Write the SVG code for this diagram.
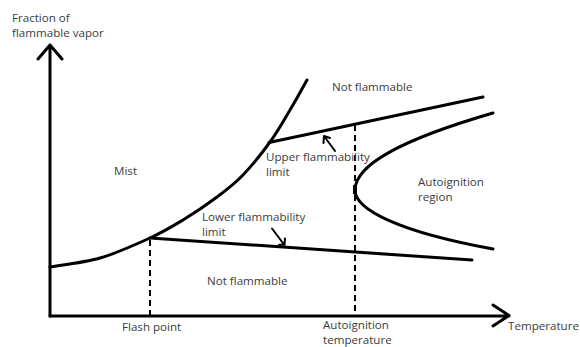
<svg xmlns="http://www.w3.org/2000/svg" width="580" height="347" viewBox="0 0 580 347">
<style>
.t{font-family:"Open Sans","Liberation Sans",sans-serif;font-size:11.6px;fill:#3c3c3c}
.ln{fill:none;stroke:#000;stroke-width:3;stroke-linecap:round;stroke-linejoin:round}
.ar{fill:none;stroke:#000;stroke-width:2;stroke-linecap:round;stroke-linejoin:round}
.ds{fill:none;stroke:#000;stroke-width:2;stroke-dasharray:6 4}
</style>
<rect width="580" height="347" fill="#fff"/>
<g id="axes">
<path class="ln" d="M50,316 V45 M38,59 L50,45 L62,59"/>
<path class="ln" d="M50,316 H509 M493,305 L509,315.5 L493,326"/>
</g>
<g id="connectors">
<path class="ln" d="M50,267 C58.3,265.5 83.3,262.8 100,258 C116.7,253.2 136.2,244.3 150,238 C163.8,231.7 171.8,226.8 183,220 C194.2,213.2 207,204.5 217,197 C227,189.5 234.2,184.2 243,175 C251.8,165.8 262.2,152.8 270,142 C277.8,131.2 283.8,120.3 290,110 C296.2,99.7 304.2,85 307,80"/>
<path class="ln" d="M269,142.5 L483,97"/>
<path class="ln" d="M150,238 L472,260"/>
<path class="ln" d="M493,113 C400,140 355,165 355,190 C355,210 400,232 493,249"/>
<path class="ds" d="M150,240 V316"/>
<path class="ds" d="M355,125 V316"/>
<rect x="353" y="185" width="4" height="9" fill="#000"/>
<path class="ar" d="M335,151 L324,136 M323.5,143 L324,136 L330,138"/>
<path class="ar" d="M272,228.5 L284,244.5 M279,244.8 L284.5,244.8 L285,238.5"/>
</g>
<g id="labels">
<text class="t" x="12" y="22">Fraction of<tspan x="12" dy="15">flammable vapor</tspan></text>
<text class="t" x="332" y="91">Not flammable</text>
<text class="t" x="114" y="175">Mist</text>
<text class="t" x="266" y="161">Upper flammability<tspan x="266" dy="15">limit</tspan></text>
<text class="t" x="418" y="186">Autoignition<tspan x="418" dy="15">region</tspan></text>
<text class="t" x="202" y="221">Lower flammability<tspan x="202" dy="15">limit</tspan></text>
<text class="t" x="207" y="285">Not flammable</text>
<text class="t" x="122" y="331">Flash point</text>
<text class="t" x="323" y="329">Autoignition<tspan x="323" dy="15">temperature</tspan></text>
<text class="t" x="508" y="330">Temperature</text>
</g>
</svg>
